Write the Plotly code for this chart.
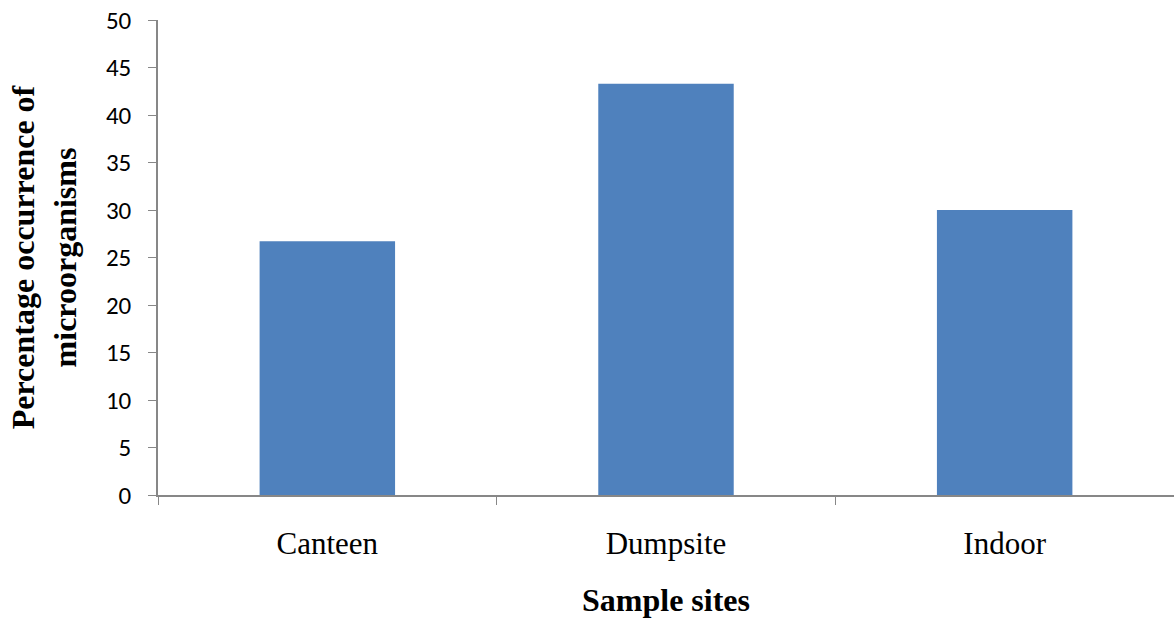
import plotly.graph_objects as go

sites = ["Canteen", "Dumpsite", "Indoor"]
percentages = [26.7, 43.3, 30.0]
y_ticks = [0, 5, 10, 15, 20, 25, 30, 35, 40, 45, 50]

fig = go.Figure(go.Bar(x=sites, y=percentages, marker=dict(color="#4F81BD", line=dict(width=0))))

fig.update_layout(
    width=1174, height=618,
    margin=dict(l=158, r=0, t=20, b=123, autoexpand=False),
    paper_bgcolor="white", plot_bgcolor="white",
    bargap=0.6,
    showlegend=False,
)
fig.update_xaxes(
    automargin=False,
    showline=True, linecolor="#878787", linewidth=1.5,
    ticks="outside", tickson="boundaries", ticklen=8, tickcolor="#878787",
    tickfont=dict(family="Liberation Serif, Times New Roman, serif", size=31, color="black"),
    ticklabelstandoff=20,
    title=dict(text="<b>Sample sites</b>", font=dict(family="Liberation Serif, Times New Roman, serif", size=32, color="black"), standoff=29),
)
fig.update_yaxes(
    automargin=False,
    range=[0, 50], tickvals=y_ticks,
    showline=True, linecolor="#878787", linewidth=1.5,
    showgrid=False, zeroline=False,
    ticks="outside", ticklen=8, tickcolor="#878787",
    tickfont=dict(family="Carlito, Open Sans, Liberation Sans, sans-serif", size=25, color="black"),
    ticklabelstandoff=12, ticklabeloverflow="allow",
    title=dict(text="<b>Percentage occurrence of<br>microorganisms</b>", font=dict(family="Liberation Serif, Times New Roman, serif", size=32, color="black"), standoff=20),
)

fig.write_html("out.html", config={"displayModeBar": False}, post_script="document.body.style.margin='0';")
